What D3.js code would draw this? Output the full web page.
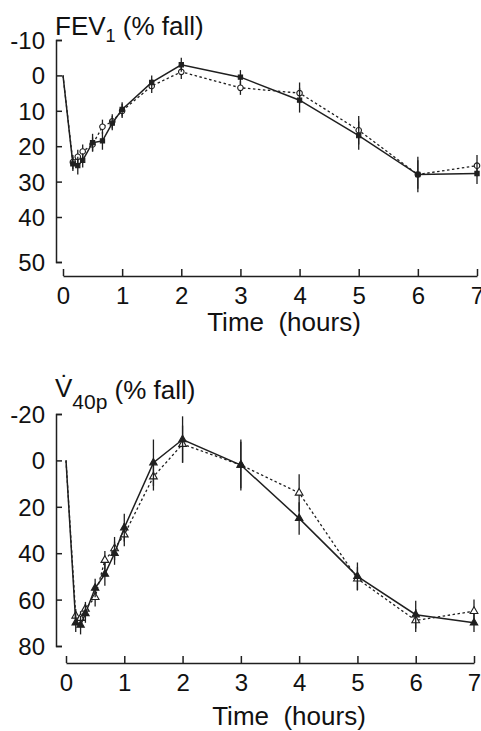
<!DOCTYPE html>
<html>
<head>
<meta charset="utf-8">
<script src="https://cdn.jsdelivr.net/npm/d3@7"></script>
<style>
  body { margin: 0; background: #fff; }
  svg text { font-family: "Liberation Sans", Arial, Helvetica, sans-serif; fill: #111; }
</style>
</head>
<body>
<div id="chart"></div>
<script>
// sampling times (hours)
const times = [0, 0.167, 0.25, 0.333, 0.5, 0.667, 0.833, 1, 1.5, 2, 3, 4, 5, 6, 7];
const xTicks = [0, 1, 2, 3, 4, 5, 6, 7];

// FEV1 (% fall)
const fevSolid = [0, 25, 25.5, 24, 19, 18.5, 13.5, 9.6, 2, -3, 0.5, 7, 17, 28, 27.7];
const fevSolidErr = [0, 2, 2.5, 2, 2.5, 2.5, 2, 2, 2, 2, 2, 3.5, 4, 5, 3];
const fevDashed = [0, 24.5, 23, 21.5, 19.5, 14.5, 13, 10, 3, -1, 3.5, 5, 15.5, 28, 25.5];
const fevDashedErr = [0, 2, 2, 2, 2, 2, 2, 2, 2, 2, 2, 3, 4, 4, 3];
const fevTicks = [-10, 0, 10, 20, 30, 40, 50];

// V40p (% fall)
const vSolid = [0, 70, 71, 66, 55, 49, 40, 29, 1, -9, 2, 25, 50, 66.5, 70];
const vSolidErr = [0, 4, 4, 4, 4, 5, 5, 6, 10, 10, 11, 7, 6, 6, 4];
const vDashed = [0, 67, 68, 64, 59, 43, 38, 32, 7, -7, 2, 14, 51, 69, 65];
const vDashedErr = [0, 3, 3, 3, 4, 4, 5, 5, 6, 8, 10, 8, 5, 5, 5];
const vTicks = [-20, 0, 20, 40, 60, 80];

const W = 481, H = 731;
const svg = d3.select("#chart").append("svg")
    .attr("width", W)
    .attr("height", H);

const ink = "#1f1f1f";

function zip(vals, errs) {
    return times.map((t, i) => ({ t: t, v: vals[i], e: errs[i] }));
}

function drawPanel(p) {
    let x = d3.scaleLinear().domain([0, 7]).range(p.xRange);
    let y = d3.scaleLinear().domain(p.yDomain).range(p.yRange);

    // y axis, ticks pointing inward
    let yAxis = svg.append("g")
        .attr("transform", `translate(${p.yAxisX},0)`)
        .call(d3.axisLeft(y)
            .tickValues(p.yTicks)
            .tickFormat(d => String(d))
            .tickSizeInner(-6)
            .tickSizeOuter(-6)
            .tickPadding(11));

    // x axis, separate line below, ticks pointing up
    let xAxis = svg.append("g")
        .attr("transform", `translate(0,${p.xAxisY})`)
        .call(d3.axisBottom(x)
            .tickValues(xTicks)
            .tickFormat(d => String(d))
            .tickSizeInner(-7)
            .tickSizeOuter(0)
            .tickPadding(11));

    [yAxis, xAxis].forEach(a => {
        a.select(".domain").attr("stroke", ink).attr("stroke-width", 1.5);
        a.selectAll(".tick line").attr("stroke", ink).attr("stroke-width", 1.5);
        a.selectAll(".tick text").style("font-size", "24px").attr("fill", ink);
    });
    yAxis.selectAll(".tick text").attr("dy", "0.35em");

    let line = d3.line().x(d => x(d.t)).y(d => y(d.v));

    p.series.forEach(s => {
        let data = zip(s.vals, s.errs);
        let g = svg.append("g");

        g.append("path")
            .datum(data)
            .attr("d", line)
            .attr("fill", "none")
            .attr("stroke", ink)
            .attr("stroke-width", s.dashed ? 1.3 : 1.5)
            .attr("stroke-dasharray", s.dashed ? "2.5,2.5" : null);

        let pts = data.filter(d => d.t > 0);

        g.selectAll(".err")
            .data(pts)
            .enter().append("line")
            .attr("x1", d => x(d.t))
            .attr("x2", d => x(d.t))
            .attr("y1", d => y(d.v - d.e))
            .attr("y2", d => y(d.v + d.e))
            .attr("stroke", ink)
            .attr("stroke-width", 1.3);

        let sym = d3.symbol().type(s.symbol).size(s.size);
        g.selectAll(".mark")
            .data(pts)
            .enter().append("path")
            .attr("transform", d => `translate(${x(d.t)},${y(d.v)})`)
            .attr("d", sym)
            .attr("fill", s.filled ? ink : "#fff")
            .attr("stroke", ink)
            .attr("stroke-width", 1.1);
    });

    svg.append("text")
        .attr("x", p.xLabelX)
        .attr("y", p.xLabelY)
        .attr("text-anchor", "middle")
        .style("font-size", "26px")
        .style("white-space", "pre")
        .attr("xml:space", "preserve")
        .text("Time  (hours)");
}

// top panel: FEV1
drawPanel({
    xRange: [63, 477],
    xAxisY: 276,
    yAxisX: 56,
    yDomain: [-10, 40, 50],
    yRange: [40, 217, 262],
    yTicks: fevTicks,
    xLabelX: 284,
    xLabelY: 331,
    series: [
        { vals: fevDashed, errs: fevDashedErr, dashed: true, filled: false, symbol: d3.symbolCircle, size: 24 },
        { vals: fevSolid, errs: fevSolidErr, dashed: false, filled: true, symbol: d3.symbolSquare, size: 18 }
    ]
});

// bottom panel: V40p
drawPanel({
    xRange: [66, 474],
    xAxisY: 663,
    yAxisX: 56,
    yDomain: [-20, 80],
    yRange: [414, 646],
    yTicks: vTicks,
    xLabelX: 289,
    xLabelY: 725,
    series: [
        { vals: vDashed, errs: vDashedErr, dashed: true, filled: false, symbol: d3.symbolTriangle, size: 26 },
        { vals: vSolid, errs: vSolidErr, dashed: false, filled: true, symbol: d3.symbolTriangle, size: 24 }
    ]
});

// titles
let t1 = svg.append("text").attr("x", 55).attr("y", 35).style("font-size", "26px");
t1.append("tspan").text("FEV");
t1.append("tspan").attr("dy", 7).style("font-size", "18px").text("1");
t1.append("tspan").attr("dy", -7).text(" (% fall)");

let t2 = svg.append("text").attr("x", 55).attr("y", 397).style("font-size", "26px");
t2.append("tspan").text("V\u0307");
t2.append("tspan").attr("dy", 12).style("font-size", "21px").text("40p");
t2.append("tspan").attr("dy", -10).text(" (% fall)");
</script>
</body>
</html>
